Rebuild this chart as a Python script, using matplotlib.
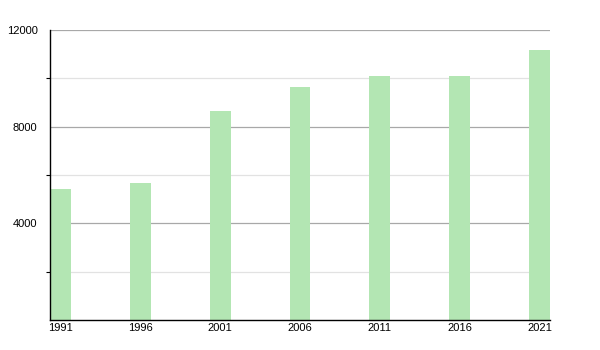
import numpy as np
import matplotlib.pyplot as plt

years = ["1991", "1996", "2001", "2006", "2011", "2016", "2021"]
population = [5420, 5670, 8650, 9640, 10090, 10090, 11170]

plt.rcParams['font.family'] = ['Liberation Sans', 'DejaVu Sans']

fig = plt.figure(figsize=(6, 3.5), dpi=100)
ax = fig.add_axes([50/600, 30/350, 500/600, 290/350])

x = np.arange(len(years))
ax.bar(x, population, width=0.26, color="#b3e6b3", zorder=3)

ax.set_xlim(-0.131, 6.131)
ax.set_ylim(0, 12000)

for y in [4000, 8000, 12000]:
    ax.axhline(y, color="#a8a8a8", lw=0.9, zorder=1)
for y in [2000, 6000, 10000]:
    ax.axhline(y, color="#e2e2e2", lw=0.9, zorder=1)

ax.set_yticks([4000, 8000, 12000])
ax.set_yticks([2000, 6000, 10000], minor=True)
ax.tick_params(axis="y", which="major", length=3, width=0.8, labelsize=8, pad=9)
ax.tick_params(axis="y", which="minor", length=3, width=0.8)
ax.tick_params(axis="y", which="major", length=0)
ax.set_xticks(x)
ax.set_xticklabels(years)
ax.tick_params(axis="x", length=0, labelsize=8, pad=2)

for s in ["top", "right"]:
    ax.spines[s].set_visible(False)
ax.spines["left"].set_linewidth(1)
ax.spines["bottom"].set_linewidth(1)
ax.spines["left"].set_zorder(4)
ax.spines["bottom"].set_zorder(4)

fig.savefig("out.png")
